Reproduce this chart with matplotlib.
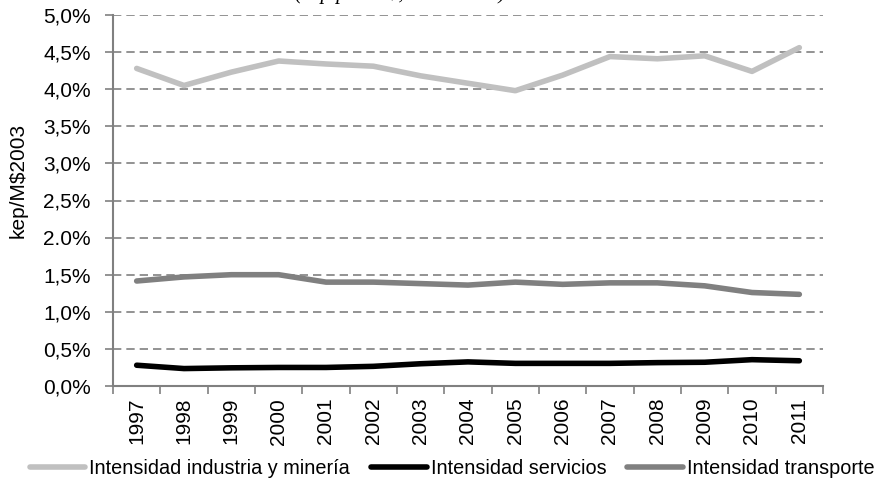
import numpy as np
import matplotlib
matplotlib.use("Agg")
import matplotlib.pyplot as plt
from matplotlib.ticker import FixedLocator

plt.rcParams['font.family'] = ['Liberation Sans', 'DejaVu Sans']

years = ["1997", "1998", "1999", "2000", "2001", "2002", "2003", "2004",
         "2005", "2006", "2007", "2008", "2009", "2010", "2011"]
industria = [4.28, 4.05, 4.23, 4.38, 4.34, 4.31, 4.18, 4.08,
             3.98, 4.19, 4.44, 4.41, 4.45, 4.24, 4.56]
servicios = [0.28, 0.235, 0.245, 0.25, 0.25, 0.265, 0.30, 0.325,
             0.305, 0.305, 0.305, 0.315, 0.32, 0.355, 0.34]
transporte = [1.415, 1.47, 1.50, 1.50, 1.40, 1.40, 1.38, 1.36,
              1.40, 1.37, 1.39, 1.39, 1.35, 1.26, 1.235]
ytick_vals = [0, 0.5, 1.0, 1.5, 2.0, 2.5, 3.0, 3.5, 4.0, 4.5, 5.0]
ytick_labels = ["0,0%", "0,5%", "1,0%", "1,5%", "2.0%", "2,5%",
                "3,0%", "3,5%", "4,0%", "4,5%", "5,0%"]

fs = 15

fig = plt.figure(figsize=(8.77, 4.82), dpi=100)
ax = fig.add_axes([113/877, 96/482, 710/877, 371/482])

x = np.arange(len(years))
ax.plot(x, industria, color="#c0c0c0", lw=4, solid_capstyle="round",
        label="Intensidad industria y minería")
ax.plot(x, servicios, color="#000000", lw=4, solid_capstyle="round",
        label="Intensidad servicios")
ax.plot(x, transporte, color="#808080", lw=4, solid_capstyle="round",
        label="Intensidad transporte")

ax.set_xlim(-0.5, len(years) - 0.5)
ax.set_ylim(0, 5.0)

ax.set_yticks(ytick_vals)
ax.set_yticklabels(ytick_labels, fontsize=fs)
ax.yaxis.grid(True, color="#808080", ls=(0, (5, 3)), lw=1.2)
ax.set_axisbelow(True)

ax.set_xticks(x)
ax.set_xticklabels(years, rotation=90, fontsize=fs)
ax.tick_params(axis="x", which="major", length=0, pad=8.5)
ax.xaxis.set_minor_locator(FixedLocator(np.arange(-0.5, len(years), 1)))
ax.tick_params(axis="x", which="minor", length=6, width=1.2, color="#808080")
ax.tick_params(axis="y", length=6, width=1.2, color="#808080", pad=10)

for s in ["top", "right"]:
    ax.spines[s].set_visible(False)
for s in ["left", "bottom"]:
    ax.spines[s].set_color("#808080")
    ax.spines[s].set_linewidth(1.5)

ax.set_ylabel("kep/M$2003", fontsize=fs)
ax.yaxis.set_label_coords(-85/710, 0.554)

# subtitle cut off at the top edge
fig.text(0.456, 1 + 1.5/482, "(kep por M$, 1997-2011)", ha="center", va="baseline",
         fontsize=15, style="italic", family="Liberation Serif")

fig.legend(loc="center", bbox_to_anchor=(452/877, 14/482), ncol=3, frameon=False,
           fontsize=14.3, handlelength=2.8, handletextpad=0.2,
           columnspacing=1.05, borderaxespad=0)

fig.savefig("out.png", dpi=100)
